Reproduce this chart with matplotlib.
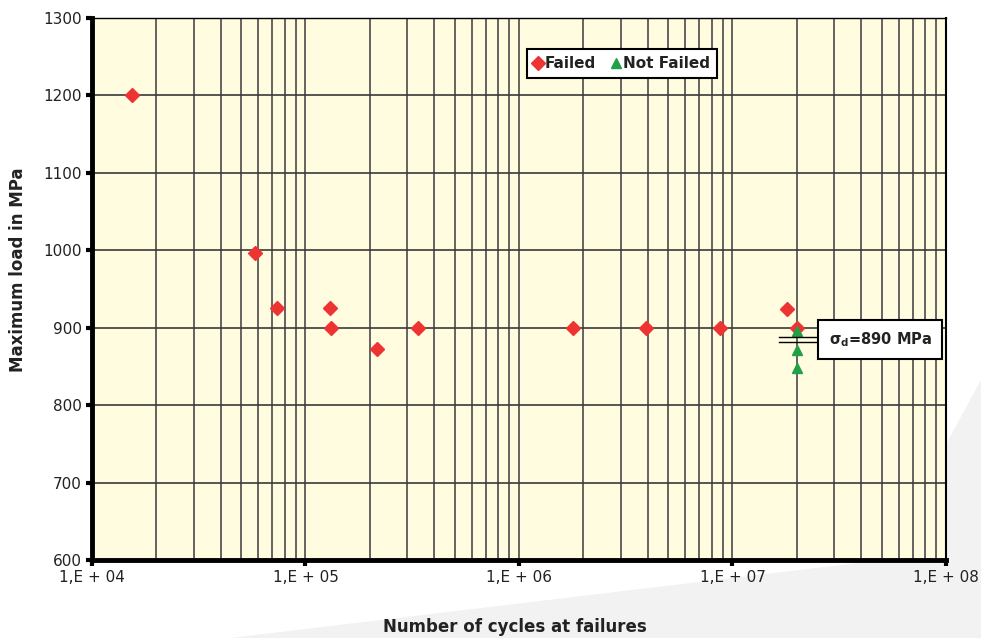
import math
import matplotlib
matplotlib.use("Agg")
import matplotlib.pyplot as plt
from matplotlib.patches import Polygon
from matplotlib.ticker import LogLocator, FixedLocator, FuncFormatter, NullFormatter

# failed specimens: cycles, max load (MPa)
failed_n = [1.54e4, 5.8e4, 7.35e4, 1.30e5, 1.32e5, 2.16e5, 3.37e5,
            1.79e6, 3.94e6, 8.7e6, 1.80e7, 2.0e7]
failed_s = [1200, 997, 926, 926, 899, 873, 899,
            899, 899, 899, 924, 899]

# run-outs
notfailed_n = [2.0e7, 2.0e7, 2.0e7]
notfailed_s = [896, 871, 848]

sigma_d = 890
y_ticks = [600, 700, 800, 900, 1000, 1100, 1200, 1300]
x_decades = [1e4, 1e5, 1e6, 1e7, 1e8]

plt.rcParams["mathtext.default"] = "regular"

W, H = 981, 638
fig = plt.figure(figsize=(W / 100, H / 100), dpi=100)
fig.patch.set_facecolor("white")

# faint grey backdrop bottom right
bg = Polygon([(230 / W, 0), (1, 0), (1, 1 - 380 / H), (0.9, 1 - 560 / H)],
             closed=True, transform=fig.transFigure,
             facecolor="#f2f2f2", edgecolor="none", zorder=-10)
fig.patches.append(bg)

ax = fig.add_axes([92 / W, 1 - 560 / H, (946 - 92) / W, (560 - 18) / H])
ax.set_zorder(1)
ax.set_facecolor("#fffce0")
ax.set_xscale("log")
ax.set_xlim(1e4, 1e8)
ax.set_ylim(600, 1300)

ax.xaxis.set_major_locator(FixedLocator(x_decades))
ax.xaxis.set_minor_locator(LogLocator(base=10, subs=range(2, 10)))
ax.xaxis.set_minor_formatter(NullFormatter())
ax.xaxis.set_major_formatter(FuncFormatter(lambda v, p: "1,E + %02d" % round(math.log10(v))))
ax.set_yticks(y_ticks)

ax.grid(True, which="both", axis="x", color="#4a4a4a", lw=1.2, zorder=1)
ax.grid(True, which="major", axis="y", color="#3a3a3a", lw=1.2, zorder=1)

for side in ["left", "bottom"]:
    ax.spines[side].set_linewidth(3.5)
    ax.spines[side].set_color("black")
ax.spines["top"].set_linewidth(1)
ax.spines["right"].set_linewidth(1.5)

ax.tick_params(axis="both", which="major", direction="out", length=4, width=3,
               labelsize=11, colors="black", labelcolor="#222222")
ax.tick_params(axis="x", which="minor", length=0)
ax.tick_params(axis="x", pad=3)

ax.plot(failed_n, failed_s, ls="none", marker="D", ms=7, color="#ee3333",
        mec="#ee3333", label="Failed", zorder=3)
ax.plot(notfailed_n, notfailed_s, ls="none", marker="^", ms=7, color="#22a045",
        mec="#22a045", label="Not Failed", zorder=4)

# fatigue limit marker
ax.plot([1.65e7, 2.46e7], [sigma_d - 2, sigma_d - 2], color="black", lw=1, zorder=5)
ax.plot([1.65e7, 2.46e7], [sigma_d - 8, sigma_d - 8], color="black", lw=1, zorder=5)
ax.text(2.82e7, 885, r"σ$_{\mathbf{d}}$=%d MPa" % sigma_d, fontsize=10.5, fontweight="bold",
        color="#222222", ha="left", va="center", zorder=6,
        bbox=dict(boxstyle="square,pad=0.7", fc="white", ec="black", lw=1.5))

leg = ax.legend(loc="upper left", bbox_to_anchor=(0.509, 0.942), ncol=2,
                borderaxespad=0, fancybox=False, framealpha=1, edgecolor="black",
                handlelength=0.6, handletextpad=0.15, columnspacing=1.0,
                borderpad=0.45, prop={"weight": "bold", "size": 11})
leg.get_frame().set_linewidth(1.5)
for t in leg.get_texts():
    t.set_color("#222222")

fig.text(18 / W, 1 - 270 / H, "Maximum load in MPa", rotation=90, ha="center", va="center",
         fontsize=12, fontweight="bold", color="#222222")
fig.text(515 / W, 1 - 627 / H, "Number of cycles at failures", ha="center", va="center",
         fontsize=12, fontweight="bold", color="#222222")

fig.savefig("out.png", dpi=100)
